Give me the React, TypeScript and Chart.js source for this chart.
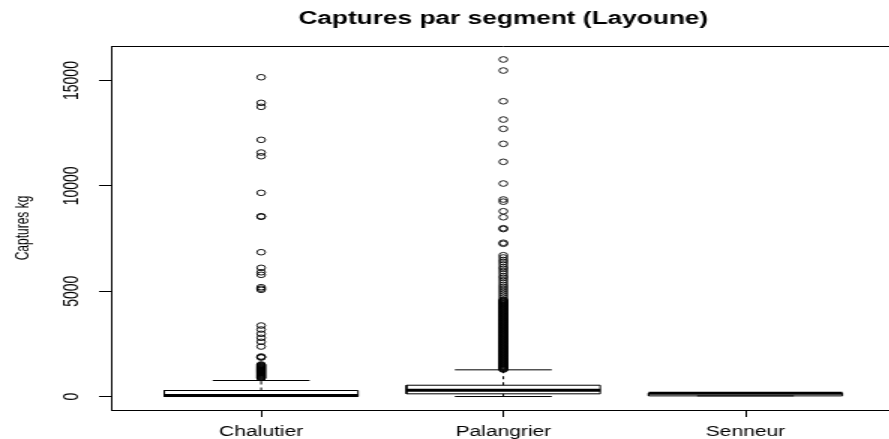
import React, { useEffect, useRef } from "react";
import { Chart, registerables } from "chart.js";

Chart.register(...registerables);

// ---------- data ----------
const categories = ["Chalutier", "Palangrier", "Senneur"];
const categoryPositions = [1, 2, 3];
const whiskerLow = [0, 0, 30];
const q1 = [0, 128, 30];
const medians = [45, 300, 160];
const q3 = [285, 536, 160];
const whiskerHigh = [760, 1267, 160];

const outliersChalutier = [
  15157, 13941, 13751, 12185, 11582, 11406, 9669, 8560, 8530, 6850, 6109, 5900,
  5777, 5190, 5120, 5064, 3370, 3180, 2976, 2786, 2596, 2373, 1900, 1870, 1850,
  1520, 1495, 1470, 1445, 1420, 1395, 1370, 1345, 1320, 1295, 1270, 1245, 1220,
  1195, 1170, 1145, 1120, 1095, 1070, 1045, 1020, 995, 970, 945, 920, 895, 870,
];
const outliersPalangrier = [
  16000, 15475, 14017, 13148, 12707, 11995, 11141, 10111, 9352, 9250, 8796,
  8511, 7990, 7950, 7300, 7250, 6707, 6600, 6480, 6380, 6270, 6150, 6060, 5950,
  5840, 5720, 5630, 5520, 5410, 5300, 5200, 5100, 5000, 4900, 4800, 4700, 4600,
  4570, 4540, 4510, 4480, 4450, 4420, 4390, 4360, 4330, 4300, 4270, 4240, 4210,
  4180, 4150, 4120, 4090, 4060, 4030, 4000, 3970, 3940, 3910, 3880, 3850, 3820,
  3790, 3760, 3730, 3700, 3670, 3640, 3610, 3580, 3550, 3520, 3490, 3460, 3430,
  3400, 3370, 3340, 3310, 3280, 3250, 3220, 3190, 3160, 3130, 3100, 3070, 3040,
  3010, 2980, 2950, 2920, 2890, 2860, 2830, 2800, 2770, 2740, 2710, 2680, 2650,
  2620, 2590, 2560, 2530, 2500, 2470, 2440, 2410, 2380, 2350, 2320, 2290, 2260,
  2230, 2200, 2170, 2140, 2110, 2080, 2050, 2020, 1990, 1960, 1930, 1900, 1870,
  1840, 1810, 1780, 1750, 1720, 1690, 1660, 1630, 1600, 1570, 1540, 1510, 1480,
  1450, 1420, 1390, 1360, 1330, 1300, 1280,
];
const outliersSenneur: number[] = [];
const outlierGroups = [outliersChalutier, outliersPalangrier, outliersSenneur];

const yTicks = [0, 5000, 10000, 15000];
const yMin = -640;
const yMax = 16640;
const xMin = 0.38;
const xMax = 3.62;

const titleText = "Captures par segment (Layoune)";
const yTitleText = "Captures kg";

// ---------- style ----------
const BOX_HALF = 0.4;
const CAP_HALF = 0.2;
const INTERNAL_W = 602;
const INTERNAL_H = 439;
const STRETCH = 1.5;
const FONT = "'Liberation Sans', Arial, sans-serif";

type Pt = { x: number; y: number | null };

export default function App() {
  const ref = useRef<HTMLCanvasElement | null>(null);

  useEffect(() => {
    document.body.style.margin = "0";
    const canvas = ref.current;
    if (!canvas) return;

    const boxData: Pt[] = [];
    const medianData: Pt[] = [];
    const whiskerData: Pt[] = [];
    const capData: Pt[] = [];
    const outlierData: Pt[] = [];

    categoryPositions.forEach((x, i) => {
      boxData.push(
        { x: x - BOX_HALF, y: q1[i] },
        { x: x + BOX_HALF, y: q1[i] },
        { x: x + BOX_HALF, y: q3[i] },
        { x: x - BOX_HALF, y: q3[i] },
        { x: x - BOX_HALF, y: q1[i] },
        { x, y: null }
      );
      medianData.push(
        { x: x - BOX_HALF, y: medians[i] },
        { x: x + BOX_HALF, y: medians[i] },
        { x, y: null }
      );
      whiskerData.push(
        { x, y: q3[i] },
        { x, y: whiskerHigh[i] },
        { x, y: null },
        { x, y: q1[i] },
        { x, y: whiskerLow[i] },
        { x, y: null }
      );
      capData.push(
        { x: x - CAP_HALF, y: whiskerHigh[i] },
        { x: x + CAP_HALF, y: whiskerHigh[i] },
        { x, y: null },
        { x: x - CAP_HALF, y: whiskerLow[i] },
        { x: x + CAP_HALF, y: whiskerLow[i] },
        { x, y: null }
      );
      outlierGroups[i].forEach((v) => outlierData.push({ x, y: v }));
    });

    const framePlugin = {
      id: "frame",
      afterDatasetsDraw(chart: any) {
        const { ctx, chartArea } = chart;
        const { left, top, right, bottom } = chartArea;
        ctx.save();
        ctx.strokeStyle = "#000";
        ctx.lineWidth = 1;
        ctx.beginPath();
        const t = Math.round(top) + 0.5;
        const r = Math.round(right) - 0.5;
        ctx.moveTo(left, t);
        ctx.lineTo(r, t);
        ctx.lineTo(r, bottom);
        ctx.stroke();
        ctx.restore();
      },
    };

    const lineBase = {
      type: "scatter" as const,
      showLine: true,
      spanGaps: false,
      pointRadius: 0,
      pointHoverRadius: 0,
      borderColor: "#000",
      backgroundColor: "transparent",
      fill: false,
    };

    const chart = new Chart(canvas, {
      type: "scatter",
      data: {
        datasets: [
          { ...lineBase, label: "box", data: boxData as any, borderWidth: 1 },
          { ...lineBase, label: "whisker", data: whiskerData as any, borderWidth: 1, borderDash: [3, 3] },
          { ...lineBase, label: "cap", data: capData as any, borderWidth: 1 },
          { ...lineBase, label: "median", data: medianData as any, borderWidth: 3 },
          {
            type: "scatter",
            label: "outliers",
            data: outlierData as any,
            showLine: false,
            pointStyle: "circle",
            pointRadius: 2.8,
            pointBorderWidth: 0.9,
            pointBorderColor: "#000",
            pointBackgroundColor: "transparent",
            borderColor: "#000",
            backgroundColor: "transparent",
          } as any,
        ],
      },
      options: {
        responsive: false,
        maintainAspectRatio: false,
        animation: false,
        devicePixelRatio: 1,
        events: [],
        layout: { padding: { left: 0, right: 2, top: 0, bottom: 0 } },
        plugins: {
          legend: { display: false },
          tooltip: { enabled: false },
          title: {
            display: true,
            text: titleText,
            fullSize: false,
            color: "#000",
            font: { family: FONT, size: 17.5, weight: "bold" },
            padding: { top: 8.5, bottom: 16.5 },
          },
        },
        scales: {
          x: {
            type: "linear",
            position: "bottom",
            min: xMin,
            max: xMax,
            afterBuildTicks: (scale: any) => {
              scale.ticks = categoryPositions.map((v) => ({ value: v }));
            },
            afterFit: (scale: any) => {
              scale.height = 29;
            },
            ticks: {
              autoSkip: false,
              maxRotation: 0,
              minRotation: 0,
              color: "#000",
              padding: 6.5,
              font: { family: FONT, size: 14 },
              callback: (_v: any, index: number) => categories[index],
            },
            grid: {
              drawOnChartArea: false,
              drawTicks: true,
              tickLength: 7,
              tickColor: "#000",
              tickWidth: 1,
            },
            border: { display: true, color: "#000", width: 1 },
          },
          y: {
            type: "linear",
            position: "left",
            min: yMin,
            max: yMax,
            afterBuildTicks: (scale: any) => {
              scale.ticks = yTicks.map((v) => ({ value: v }));
            },
            afterFit: (scale: any) => {
              scale.width = 74;
            },
            ticks: {
              color: "#000",
              minRotation: 90,
              maxRotation: 90,
              crossAlign: "center",
              padding: -2,
              font: { family: FONT, size: 14 },
              callback: (v: any) => String(v),
            },
            grid: {
              drawOnChartArea: false,
              drawTicks: true,
              tickLength: 8,
              tickColor: "#000",
              tickWidth: 1,
            },
            border: { display: true, color: "#000", width: 1 },
            title: {
              display: true,
              text: yTitleText,
              color: "#000",
              font: { family: FONT, size: 12 },
              padding: { top: 8, bottom: 0 },
            },
          },
        },
      },
      plugins: [framePlugin],
    } as any);

    return () => chart.destroy();
  }, []);

  return (
    <div style={{ width: 889, height: 439, overflow: "hidden", position: "relative", background: "#fff" }}>
      <canvas
        ref={ref}
        width={INTERNAL_W}
        height={INTERNAL_H}
        style={{ width: `${INTERNAL_W * STRETCH}px`, height: `${INTERNAL_H}px`, display: "block" }}
      />
    </div>
  );
}
